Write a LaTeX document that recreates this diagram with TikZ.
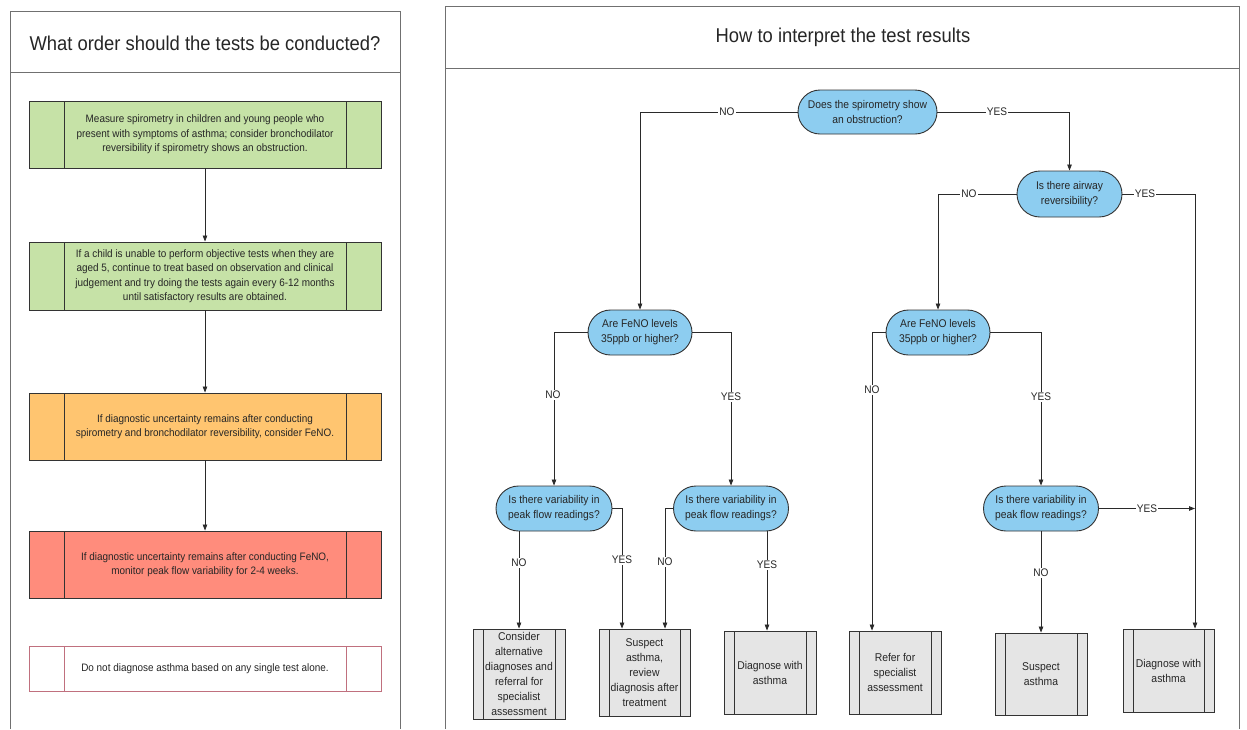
\documentclass[tikz,border=0pt]{standalone}
\usepackage{fontspec}
\setmainfont{Liberation Sans}[FakeStretch=0.92]
\usetikzlibrary{shapes.misc,arrows.meta}
\definecolor{stepgreen}{HTML}{C6E2A7}
\definecolor{steporange}{HTML}{FFC570}
\definecolor{stepred}{HTML}{FF8C7C}
\definecolor{notered}{HTML}{C0707E}
\definecolor{decblue}{HTML}{8DCDF0}
\definecolor{resgrey}{HTML}{E5E5E5}
\definecolor{boxline}{HTML}{333333}
\definecolor{panelgrey}{HTML}{707070}
\definecolor{linec}{HTML}{2A2A2A}
\tikzset{
  panel/.style={draw=panelgrey, line width=1pt},
  title/.style={inner sep=0pt, font=\fontsize{20}{24}\selectfont, text=black!85},
  sidelines/.style 2 args={path picture={
      \draw[line width=0.9pt, draw=#2]
        ([xshift=#1]path picture bounding box.north west) -- ([xshift=#1]path picture bounding box.south west)
        ([xshift=-#1]path picture bounding box.north east) -- ([xshift=-#1]path picture bounding box.south east);}},
  stepbox/.style={draw=boxline, line width=0.9pt, minimum width=352pt, minimum height=67pt,
      align=center, inner sep=0pt, text=black!85, font=\fontsize{10.8}{14.5}\selectfont,
      sidelines={35pt}{boxline}},
  dec/.style={rounded rectangle, draw=boxline, fill=decblue, line width=0.9pt, align=center,
      inner sep=0pt, text=black!85, font=\fontsize{11.2}{15}\selectfont},
  res/.style={draw=boxline, fill=resgrey, line width=0.9pt, align=center, inner sep=0pt,
      text=black!85, font=\fontsize{11.3}{15}\selectfont, sidelines={10pt}{boxline}},
  lab/.style={fill=white, inner sep=1pt, text=black!85, font=\fontsize{11}{12}\selectfont},
  conn/.style={draw=linec, line width=0.8pt},
  arr/.style={conn, -{Triangle[length=6pt,width=4.5pt]}}
}
\begin{document}
\begin{tikzpicture}[x=1pt,y=-1pt]
\useasboundingbox[fill=white] (0,0) rectangle (1247,729);
% ---------------- left panel ----------------
\draw[panel] (10,729) -- (10,11) -- (400,11) -- (400,729);
\draw[panel] (10,72) -- (400,72);
\node[title] (t1) at (205,43) {What order should the tests be conducted?};

\node[stepbox, fill=stepgreen] (b1) at (205,134.5)
  {Measure spirometry in children and young people who\\present with symptoms of asthma; consider bronchodilator\\reversibility if spirometry shows an obstruction.};
\node[stepbox, fill=stepgreen, minimum height=68pt] (b2) at (205,276)
  {If a child is unable to perform objective tests when they are\\aged 5, continue to treat based on observation and clinical\\judgement and try doing the tests again every 6-12 months\\until satisfactory results are obtained.};
\node[stepbox, fill=steporange] (b3) at (205,426.5)
  {If diagnostic uncertainty remains after conducting\\spirometry and bronchodilator reversibility, consider FeNO.};
\node[stepbox, fill=stepred] (b4) at (205,564.5)
  {If diagnostic uncertainty remains after conducting FeNO,\\monitor peak flow variability for 2-4 weeks.};
\node[stepbox, fill=white, draw=notered, minimum height=45pt, sidelines={35pt}{notered}] (b5) at (205,668.5)
  {Do not diagnose asthma based on any single test alone.};

\draw[arr] (b1) -- (b2);
\draw[arr] (b2) -- (b3);
\draw[arr] (b3) -- (b4);

% ---------------- right panel ----------------
\draw[panel] (445,729) -- (445,6) -- (1239,6) -- (1239,729);
\draw[panel] (445,68) -- (1239,68);
\node[title] (t2) at (843,37) {How to interpret the test results};

% decisions
\node[dec, minimum width=139pt, minimum height=44pt] (d1) at (867.5,112) {Does the spirometry show\\an obstruction?};
\node[dec, minimum width=105pt, minimum height=46pt] (d3) at (1069.5,194) {Is there airway\\reversibility?};
\node[dec, minimum width=104pt, minimum height=45pt] (d2) at (640,332.5) {Are FeNO levels\\35ppb or higher?};
\node[dec, minimum width=104pt, minimum height=45pt] (d4) at (938,332.5) {Are FeNO levels\\35ppb or higher?};
\node[dec, minimum width=116pt, minimum height=45pt] (d5) at (554,508.5) {Is there variability in\\peak flow readings?};
\node[dec, minimum width=115pt, minimum height=45pt] (d6) at (731,508.5) {Is there variability in\\peak flow readings?};
\node[dec, minimum width=115pt, minimum height=45pt] (d7) at (1041,508.5) {Is there variability in\\peak flow readings?};

% results
\node[res, minimum width=92pt, minimum height=90pt] (l1) at (519,674) {Consider\\alternative\\diagnoses and\\referral for\\specialist\\assessment};
\node[res, minimum width=91pt, minimum height=87pt] (l2) at (644.5,672.5) {Suspect\\asthma,\\review\\diagnosis after\\treatment};
\node[res, minimum width=92pt, minimum height=83pt] (l3) at (770,672.5) {Diagnose with\\asthma};
\node[res, minimum width=92pt, minimum height=83pt] (r1) at (895,672.5) {Refer for\\specialist\\assessment};
\node[res, minimum width=92pt, minimum height=82pt] (r2) at (1041,674) {Suspect\\asthma};
\node[res, minimum width=91pt, minimum height=83pt] (r3) at (1168.5,670.5) {Diagnose with\\asthma};

% helper coordinates
\coordinate (c3) at (1195,194);
\coordinate (c4) at (872,332.5);
\coordinate (c5) at (622,508.5);
\coordinate (c6) at (665,508.5);
\coordinate (c6b) at (767,600);

% connectors
\draw[arr] (d1.west) -| (d2.north);
\draw[arr] (d1.east) -| (d3.north);
\draw[arr] (d3.west) -| (d4.north);
\draw[arr] (d3.east) -- (c3) -- (c3 |- r3.north);
\draw[arr] (d2.west) -| (d5.north);
\draw[arr] (d2.east) -| (d6.north);
\draw[arr] (d4.west) -- (c4) -- (c4 |- r1.north);
\draw[arr] (d4.east) -| (d7.north);
\draw[arr] (l1.north |- d5.south) -- (l1.north);
\draw[arr] (d5.east) -- (c5) -- (c5 |- l2.north);
\draw[arr] (d6.west) -- (c6) -- (c6 |- l2.north);
\draw[arr] (c6b |- d6.south) -- (c6b |- l3.north);
\draw[arr] (d7.south) -- (d7.south |- r2.north);
\draw[arr] (d7.east) -- (c3 |- d7.east);

% labels
\node[lab] (n1) at (727,112) {NO};
\node[lab] (y1) at (997,112) {YES};
\node[lab] (n3) at (969,194) {NO};
\node[lab] (y3) at (1145,194) {YES};
\node[lab] (n2) at (553,395) {NO};
\node[lab] (y2) at (731,397) {YES};
\node[lab] (n4) at (872,390) {NO};
\node[lab] (y4) at (1041,397) {YES};
\node[lab] (n5) at (519,563) {NO};
\node[lab] (y5) at (622,560) {YES};
\node[lab] (n6) at (665,562) {NO};
\node[lab] (y6) at (767,565) {YES};
\node[lab] (n7) at (1041,573) {NO};
\node[lab] (y7) at (1147,508.5) {YES};
\end{tikzpicture}
\end{document}
